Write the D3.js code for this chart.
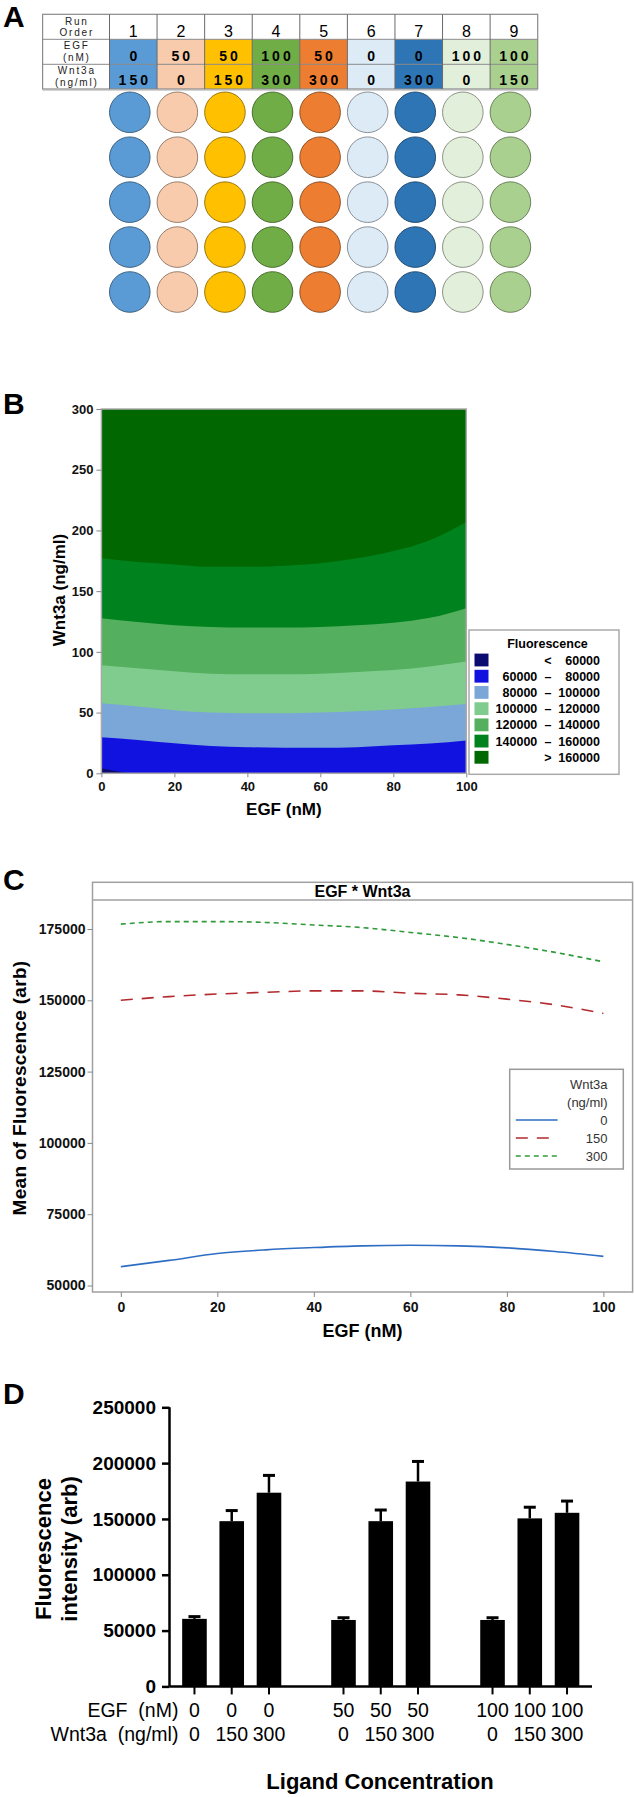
<!DOCTYPE html>
<html><head><meta charset="utf-8">
<script src="https://cdn.jsdelivr.net/npm/d3@7"></script>
<style>
body{margin:0;background:#fff;}
svg{display:block;font-family:"Liberation Sans",Arial,sans-serif;}
</style></head><body>
<svg id="c" width="634" height="1797"></svg>
<script>
// ================= DATA =================
// Panel A: plate layout
const runOrder = [1,2,3,4,5,6,7,8,9];
const runEGF = [0,50,50,100,50,0,0,100,100];
const runWnt3a = [150,0,150,300,300,0,300,0,150];
const wellRows = [0,1,2,3,4];

// Panel B: contour boundaries (Wnt3a ng/ml at each EGF nM)
const contourEGF = [0,10,20,30,40,50,60,70,80,90,100];
const bound60k  = [4.2,0,0,0,0,0,0,0,0,0,0];
const bound80k  = [29.6,27.5,24.7,22.5,21.5,21,21,21.5,23,24.5,27];
const bound100k = [57.6,55,52,50,49.4,49.4,50,51,52.5,54.5,57];
const bound120k = [89,86.5,84,82,81.5,81.5,82,83.5,85,88,92];
const bound140k = [127.6,124.5,122,120.5,120,120,120.5,122,124,128,136];
const bound160k = [177,174,172,170,170,171,173,177,183,192,207];
const legendLow  = ["", "60000","80000","100000","120000","140000",""];
const legendSep  = ["<","–","–","–","–","–",">"];
const legendHigh = ["60000","80000","100000","120000","140000","160000","160000"];
const bTicksY = [0,50,100,150,200,250,300];
const bTicksX = [0,20,40,60,80,100];

// Panel C: mean fluorescence vs EGF
const lineEGF = [0,10,20,30,40,50,60,70,80,90,100];
const meanW0   = [56600,58800,61200,62500,63300,63900,64100,63900,63200,61900,60200];
const meanW150 = [150000,151300,152200,152800,153300,153300,152500,151900,150400,148400,145400];
const meanW300 = [176700,177600,177600,177300,176400,175500,173800,172000,169600,166800,163500];
const cSeriesNames = ["0","150","300"];
const cTicksY = [50000,75000,100000,125000,150000,175000];
const cTicksX = [0,20,40,60,80,100];

// Panel D: bar chart
const barEGF   = [0,0,0,50,50,50,100,100,100];
const barWnt3a = [0,150,300,0,150,300,0,150,300];
const barMean  = [60500,148000,173500,59500,148000,183500,59500,150500,155500];
const barErr   = [2000,9500,15500,2000,10000,18000,2000,10000,10500];
const dTicksY  = [0,50000,100000,150000,200000,250000];

// ================= STYLE =================
const runColors = ["#5B9BD5","#F8CBAD","#FFC000","#70AD47","#ED7D31","#DDEBF7","#2E75B6","#E2EFDA","#A9D08E"];
const bandColors = ["#0C0C70","#1212E0","#7BA6D8","#80CC8E","#54AF5E","#00821F","#016801"];
const cColors = ["#2E6DC4","#B22A2E","#2F9A3C"];
const cDash = [null,"12,9","5,4"];

const svg = d3.select("#c");
svg.append("rect").attr("width",634).attr("height",1797).attr("fill","#fff");

function panelLabel(t,x,y){
  svg.append("text").attr("x",x).attr("y",y).attr("font-size",30).attr("font-weight","bold").text(t);
}
panelLabel("A",3,27); panelLabel("B",3,414); panelLabel("C",3,890); panelLabel("D",3,1404);

// ================= PANEL A =================
const gA = svg.append("g");
const colX = d3.scaleBand().domain(runOrder).range([109.5,537.7]);
const rowY = [14.3,39.3,64.3,89];
const bw = colX.bandwidth();
runOrder.forEach((r,i)=>{
  gA.append("rect").attr("x",colX(r)).attr("y",rowY[1]).attr("width",bw).attr("height",rowY[3]-rowY[1]).attr("fill",runColors[i]);
});
// grid
gA.append("rect").attr("x",42.6).attr("y",rowY[0]).attr("width",537.7-42.6).attr("height",rowY[3]-rowY[0])
  .attr("fill","none").attr("stroke","#8a8a8a").attr("stroke-width",1.2);
[rowY[1],rowY[2]].forEach(y=>gA.append("line").attr("x1",42.6).attr("x2",537.7).attr("y1",y).attr("y2",y).attr("stroke","#8a8a8a"));
runOrder.forEach(r=>gA.append("line").attr("x1",colX(r)).attr("x2",colX(r)).attr("y1",rowY[0]).attr("y2",rowY[3]).attr("stroke","#6a6a6a"));
gA.append("line").attr("x1",42.6).attr("x2",537.7).attr("y1",rowY[3]+1).attr("y2",rowY[3]+1).attr("stroke","#aaa");
// label column
const labA = [["Run",24.5],["Order",36],["EGF",49],["(nM)",60.5],["Wnt3a",73.5],["(ng/ml)",85.5]];
labA.forEach(([t,y])=>gA.append("text").attr("x",76.8).attr("y",y).attr("text-anchor","middle")
  .attr("font-size",10).attr("letter-spacing",1.8).attr("fill","#222").text(t));
runOrder.forEach((r,i)=>{
  const cx = colX(r)+bw/2;
  gA.append("text").attr("x",cx).attr("y",36.7).attr("text-anchor","middle").attr("font-size",16).text(r);
  gA.append("text").attr("x",cx+1.5).attr("y",60.5).attr("text-anchor","middle").attr("font-size",14)
    .attr("font-weight","bold").attr("letter-spacing",3).text(runEGF[i]);
  gA.append("text").attr("x",cx+1.5).attr("y",85).attr("text-anchor","middle").attr("font-size",14)
    .attr("font-weight","bold").attr("letter-spacing",3).text(runWnt3a[i]);
});
// wells
const wellY = d3.scaleLinear().domain([0,4]).range([112.3,292]);
runOrder.forEach((r,i)=>{
  wellRows.forEach(w=>{
    gA.append("circle").attr("cx",colX(r)+bw/2-3.5).attr("cy",wellY(w)).attr("r",20.3)
      .attr("fill",runColors[i]).attr("stroke",d3.color(runColors[i]).darker(1.6)).attr("stroke-width",0.9);
  });
});

// ================= PANEL B =================
const gB = svg.append("g");
const xB = d3.scaleLinear().domain([0,100]).range([101.4,466.3]);
const yB = d3.scaleLinear().domain([0,300]).range([773.3,409]);
gB.append("rect").attr("x",xB(0)).attr("y",yB(300)).attr("width",xB(100)-xB(0)).attr("height",yB(0)-yB(300)).attr("fill",bandColors[6]);
const bounds = [bound60k,bound80k,bound100k,bound120k,bound140k,bound160k];
for(let k=5;k>=0;k--){
  const area = d3.area().x((d,i)=>xB(contourEGF[i])).y0(yB(0)).y1(d=>yB(d)).curve(d3.curveMonotoneX);
  gB.append("path").datum(bounds[k]).attr("d",area).attr("fill",bandColors[k]);
}
gB.append("rect").attr("x",xB(0)).attr("y",yB(300)).attr("width",xB(100)-xB(0)).attr("height",yB(0)-yB(300))
  .attr("fill","none").attr("stroke","#aaa").attr("stroke-width",1.5);
const axBY = gB.append("g").attr("transform",`translate(${xB(0)},0)`).call(d3.axisLeft(yB).tickValues(bTicksY).tickSize(5).tickPadding(3));
const axBX = gB.append("g").attr("transform",`translate(0,${yB(0)})`).call(d3.axisBottom(xB).tickValues(bTicksX).tickSize(4).tickPadding(4));
[axBY,axBX].forEach(a=>{
  a.select(".domain").remove();
  a.selectAll("line").attr("stroke","#888");
  a.selectAll("text").attr("font-size",13).attr("font-weight","bold").attr("fill","#111").attr("font-family",'"Liberation Sans",Arial,sans-serif');
});
gB.append("text").attr("transform","translate(65,590) rotate(-90)").attr("text-anchor","middle")
  .attr("font-size",17).attr("font-weight","bold").text("Wnt3a (ng/ml)");
gB.append("text").attr("x",(xB(0)+xB(100))/2).attr("y",815).attr("text-anchor","middle")
  .attr("font-size",17).attr("font-weight","bold").text("EGF (nM)");
// legend
const gBL = gB.append("g");
gBL.append("rect").attr("x",469).attr("y",630).attr("width",150).attr("height",144.3)
  .attr("fill","#fff").attr("stroke","#aaa").attr("stroke-width",1.5);
gBL.append("text").attr("x",547.5).attr("y",647.5).attr("text-anchor","middle").attr("font-size",12.5).attr("font-weight","bold").text("Fluorescence");
const legY = d3.scaleLinear().domain([0,6]).range([660,757.3]);
legendHigh.forEach((h,i)=>{
  const y = legY(i);
  gBL.append("rect").attr("x",474.5).attr("y",y-6.4).attr("width",14).attr("height",12.8).attr("fill",bandColors[i]);
  gBL.append("text").attr("x",537.3).attr("y",y+4.5).attr("text-anchor","end").attr("font-size",12.5).attr("font-weight","bold").text(legendLow[i]);
  gBL.append("text").attr("x",548).attr("y",y+4.5).attr("text-anchor","middle").attr("font-size",12.5).attr("font-weight","bold").text(legendSep[i]);
  gBL.append("text").attr("x",600).attr("y",y+4.5).attr("text-anchor","end").attr("font-size",12.5).attr("font-weight","bold").text(h);
});

// ================= PANEL C =================
const gC = svg.append("g");
const xC = d3.scaleLinear().domain([0,100]).range([120.8,603.4]);
const yC = d3.scaleLinear().domain([50000,175000]).range([1285.5,929]);
gC.append("rect").attr("x",92.5).attr("y",882.3).attr("width",632.6-92.5).attr("height",1292-882.3)
  .attr("fill","none").attr("stroke","#a0a0a0").attr("stroke-width",1.5);
gC.append("line").attr("x1",92.5).attr("x2",632.6).attr("y1",900).attr("y2",900).attr("stroke","#a0a0a0").attr("stroke-width",1.5);
gC.append("text").attr("x",362.5).attr("y",897).attr("text-anchor","middle").attr("font-size",16).attr("font-weight","bold").text("EGF * Wnt3a");
const axCY = gC.append("g").attr("transform","translate(92.5,0)").call(d3.axisLeft(yC).tickValues(cTicksY).tickSize(5).tickPadding(2).tickFormat(d3.format("d")));
const axCX = gC.append("g").attr("transform","translate(0,1292)").call(d3.axisBottom(xC).tickValues(cTicksX).tickSize(5).tickPadding(5));
[axCY,axCX].forEach(a=>{
  a.select(".domain").remove();
  a.selectAll("line").attr("stroke","#888");
  a.selectAll("text").attr("font-size",14).attr("font-weight","bold").attr("fill","#111").attr("font-family",'"Liberation Sans",Arial,sans-serif');
});
const cSeries = [meanW0,meanW150,meanW300];
const lineC = d3.line().x((d,i)=>xC(lineEGF[i])).y(d=>yC(d)).curve(d3.curveMonotoneX);
cSeries.forEach((s,k)=>{
  gC.append("path").datum(s).attr("d",lineC).attr("fill","none").attr("stroke",cColors[k])
    .attr("stroke-width",1.6).attr("stroke-dasharray",cDash[k]);
});
gC.append("text").attr("transform","translate(26,1088) rotate(-90)").attr("text-anchor","middle")
  .attr("font-size",19).attr("font-weight","bold").attr("letter-spacing",0.3).text("Mean of Fluorescence (arb)");
gC.append("text").attr("x",362.5).attr("y",1337).attr("text-anchor","middle").attr("font-size",18).attr("font-weight","bold").text("EGF (nM)");
// legend C
const gCL = gC.append("g");
gCL.append("rect").attr("x",509.7).attr("y",1069.3).attr("width",113.6).attr("height",99.7)
  .attr("fill","#fff").attr("stroke","#999").attr("stroke-width",1.5);
gCL.append("text").attr("x",607.5).attr("y",1088.5).attr("text-anchor","end").attr("font-size",13).attr("fill","#333").text("Wnt3a");
gCL.append("text").attr("x",607.5).attr("y",1106.5).attr("text-anchor","end").attr("font-size",13).attr("fill","#333").text("(ng/ml)");
const legCY = d3.scaleLinear().domain([0,2]).range([1120,1156]);
cSeriesNames.forEach((n,k)=>{
  const y = legCY(k);
  gCL.append("line").attr("x1",515.8).attr("x2",557.6).attr("y1",y).attr("y2",y).attr("stroke",cColors[k])
    .attr("stroke-width",1.6).attr("stroke-dasharray",cDash[k]);
  gCL.append("text").attr("x",607.5).attr("y",y+4.5).attr("text-anchor","end").attr("font-size",13).attr("fill","#333").text(n);
});

// ================= PANEL D =================
const gD = svg.append("g");
const slots = barEGF.map((e,i)=>Math.floor(i/3)*4 + (i%3));
const xD = d3.scaleBand().domain(d3.range(11)).range([169.5,592]).padding(0.34);
const yD = d3.scaleLinear().domain([0,250000]).range([1686.4,1407.3]);
barMean.forEach((m,i)=>{
  const x = xD(slots[i]);
  gD.append("rect").attr("x",x).attr("y",yD(m)).attr("width",xD.bandwidth()).attr("height",yD(0)-yD(m)).attr("fill","#000");
  const cx = x+xD.bandwidth()/2;
  gD.append("line").attr("x1",cx).attr("x2",cx).attr("y1",yD(m)).attr("y2",yD(m+barErr[i])).attr("stroke","#000").attr("stroke-width",2.5);
  gD.append("line").attr("x1",cx-6).attr("x2",cx+6).attr("y1",yD(m+barErr[i])).attr("y2",yD(m+barErr[i])).attr("stroke","#000").attr("stroke-width",3);
  gD.append("line").attr("x1",cx).attr("x2",cx).attr("y1",yD(0)).attr("y2",yD(0)+8).attr("stroke","#000").attr("stroke-width",2);
  gD.append("text").attr("x",cx).attr("y",1717).attr("text-anchor","middle").attr("font-size",19.5).text(barEGF[i]);
  gD.append("text").attr("x",cx).attr("y",1741).attr("text-anchor","middle").attr("font-size",19.5).text(barWnt3a[i]);
});
const axDY = gD.append("g").attr("transform","translate(169.5,0)").call(d3.axisLeft(yD).tickValues(dTicksY).tickSize(7.5).tickPadding(6).tickFormat(d3.format("d")));
axDY.select(".domain").attr("stroke-width",2.5).attr("d",`M0,${yD(250000)}V${yD(0)}`);
axDY.selectAll("line").attr("stroke-width",2.5);
axDY.selectAll("text").attr("font-size",19).attr("font-weight","bold").attr("fill","#000").attr("font-family",'"Liberation Sans",Arial,sans-serif');
gD.append("line").attr("x1",169.5).attr("x2",592).attr("y1",yD(0)).attr("y2",yD(0)).attr("stroke","#000").attr("stroke-width",2.5);
gD.append("text").attr("x",178.4).attr("y",1717).attr("text-anchor","end").attr("font-size",19.5).style("white-space","pre").text("EGF  (nM)");
gD.append("text").attr("x",178.4).attr("y",1741).attr("text-anchor","end").attr("font-size",19.5).style("white-space","pre").text("Wnt3a  (ng/ml)");
gD.append("text").attr("transform","translate(50.7,1549) rotate(-90)").attr("text-anchor","middle")
  .attr("font-size",22).attr("font-weight","bold").text("Fluorescence");
gD.append("text").attr("transform","translate(77,1549) rotate(-90)").attr("text-anchor","middle")
  .attr("font-size",22).attr("font-weight","bold").text("intensity (arb)");
gD.append("text").attr("x",380).attr("y",1789).attr("text-anchor","middle").attr("font-size",22).attr("font-weight","bold").text("Ligand Concentration");
</script>
</body></html>
